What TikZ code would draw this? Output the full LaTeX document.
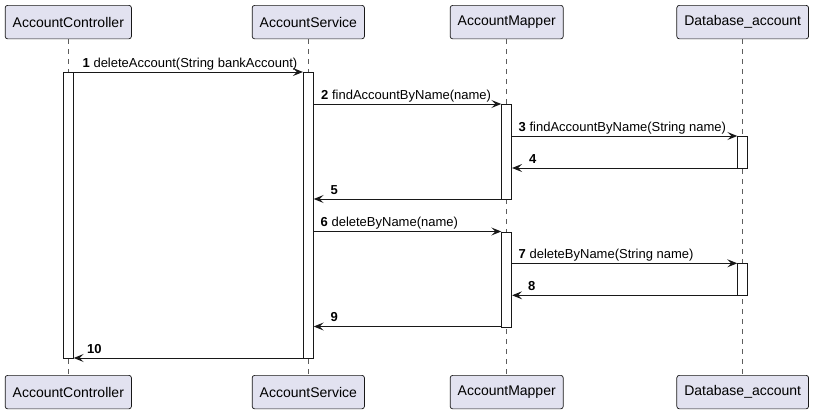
\documentclass[tikz,border=0pt]{standalone}
\usepackage{fontspec}
\setmainfont{Liberation Sans}
\usetikzlibrary{arrows.meta}
\definecolor{partfill}{HTML}{E2E2F0}
\definecolor{ink}{HTML}{181818}
\tikzset{
  participant/.style={draw=ink, line width=0.7pt, fill=partfill, rounded corners=2.5pt,
    minimum height=33.5pt, inner xsep=7.5pt, inner ysep=0pt,
    font=\fontsize{14}{16}\selectfont, text=black},
  lifeline/.style={draw=ink!70, line width=0.6pt, dash pattern=on 5pt off 5pt},
  actbar/.style={draw=ink, line width=0.8pt, fill=white, minimum width=10pt, inner sep=0pt, anchor=north},
  msg/.style={draw=ink, line width=1pt, -{Stealth[length=10pt, width=8pt, inset=4pt]}},
  msglabel/.style={anchor=base west, inner sep=0pt, font=\fontsize{13}{15}\selectfont, text=black}
}
\begin{document}
\begin{tikzpicture}[x=1pt, y=-1pt]
\useasboundingbox (0,0) rectangle (814,413);
% lifeline x positions
\def\xa{68.3}\def\xb{308.3}\def\xc{506.7}\def\xd{742.7}
% participants top
\node[participant, anchor=north] (acT) at (\xa,5) {AccountController};
\node[participant, anchor=north] (asT) at (\xb,5) {AccountService};
\node[participant, anchor=north] (amT) at (\xc,5) {AccountMapper};
\node[participant, anchor=north] (dbT) at (\xd,5) {Database\_account};
% participants bottom
\node[participant, anchor=north] (acB) at (\xa,375) {AccountController};
\node[participant, anchor=north] (asB) at (\xb,375) {AccountService};
\node[participant, anchor=north] (amB) at (\xc,375) {AccountMapper};
\node[participant, anchor=north] (dbB) at (\xd,375) {Database\_account};
% lifelines
\draw[lifeline] (acT.south) -- (acB.north);
\draw[lifeline] (asT.south) -- (asB.north);
\draw[lifeline] (amT.south) -- (amB.north);
\draw[lifeline] (dbT.south) -- (dbB.north);
% activation bars
\node[actbar, minimum height=286pt] (ac1) at (\xa,72) {};
\node[actbar, minimum height=286pt] (as1) at (\xb,72) {};
\node[actbar, minimum height=95pt] (am1) at (\xc,104) {};
\node[actbar, minimum height=32pt] (db1) at (\xd,136) {};
\node[actbar, minimum height=95pt] (am2) at (\xc,231.5) {};
\node[actbar, minimum height=32pt] (db2) at (\xd,263.3) {};
% message levels
\coordinate (y1) at (0,72);
\coordinate (y2) at (0,104);
\coordinate (y3) at (0,136);
\coordinate (y4) at (0,168);
\coordinate (y5) at (0,199);
\coordinate (y6) at (0,231.5);
\coordinate (y7) at (0,263.3);
\coordinate (y8) at (0,295.3);
\coordinate (y9) at (0,326.5);
\coordinate (y10) at (0,358);
% messages
\draw[msg] (ac1.east |- y1) -- (as1.west |- y1);
\draw[msg] (as1.east |- y2) -- (am1.west |- y2);
\draw[msg] (am1.east |- y3) -- (db1.west |- y3);
\draw[msg] (db1.west |- y4) -- (am1.east |- y4);
\draw[msg] (am1.west |- y5) -- (as1.east |- y5);
\draw[msg] (as1.east |- y6) -- (am2.west |- y6);
\draw[msg] (am2.east |- y7) -- (db2.west |- y7);
\draw[msg] (db2.west |- y8) -- (am2.east |- y8);
\draw[msg] (am2.west |- y9) -- (as1.east |- y9);
\draw[msg] (as1.west |- y10) -- (ac1.east |- y10);
% labels
\node[msglabel] (l1) at (82.5,67) {\textbf{1} deleteAccount(String bankAccount)};
\node[msglabel] (l2) at (321,99) {\textbf{2} findAccountByName(name)};
\node[msglabel] (l3) at (518.5,131) {\textbf{3} findAccountByName(String name)};
\node[msglabel] (l4) at (529,163) {\textbf{4}};
\node[msglabel] (l5) at (330.5,194) {\textbf{5}};
\node[msglabel] (l6) at (320.5,226.5) {\textbf{6} deleteByName(name)};
\node[msglabel] (l7) at (518.5,258.3) {\textbf{7} deleteByName(String name)};
\node[msglabel] (l8) at (528,290.3) {\textbf{8}};
\node[msglabel] (l9) at (330.5,321.5) {\textbf{9}};
\node[msglabel] (l10) at (87,353) {\textbf{10}};
\end{tikzpicture}
\end{document}
